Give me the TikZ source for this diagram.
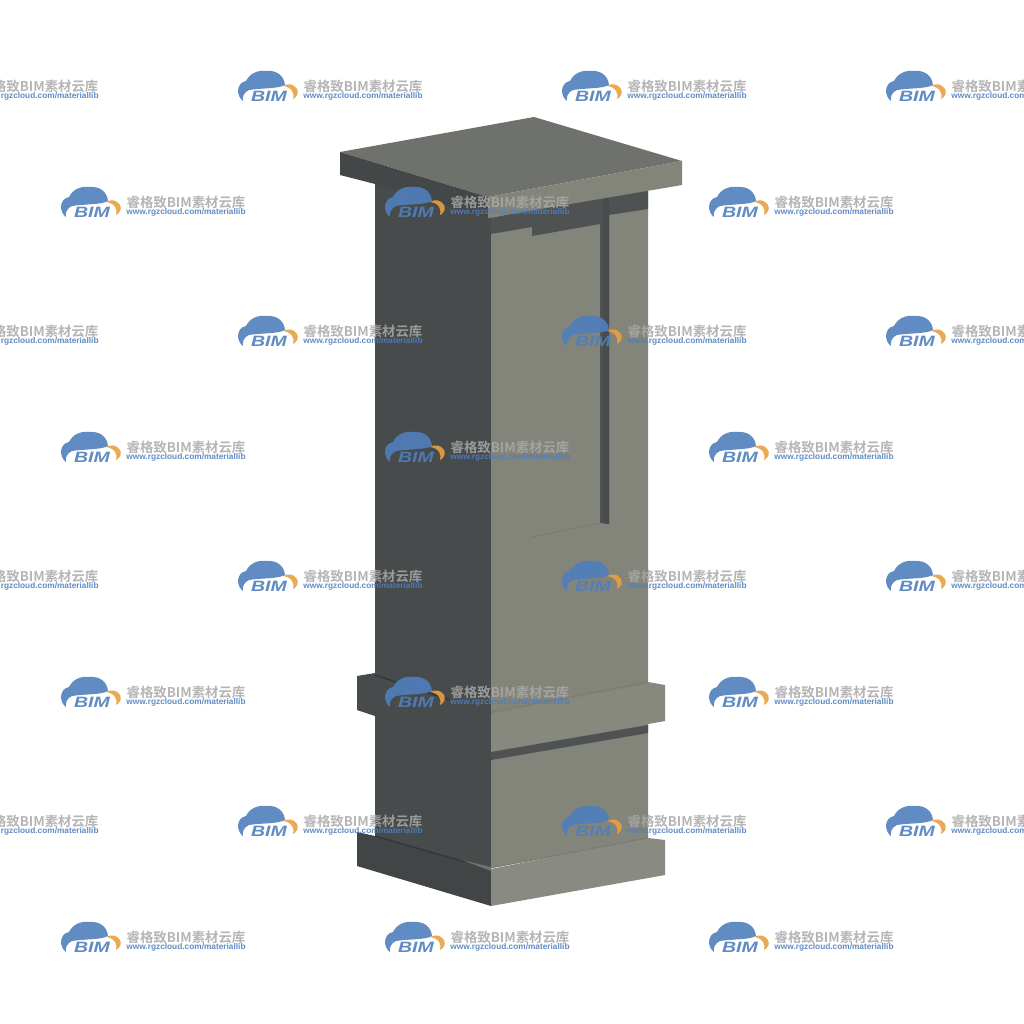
\documentclass[tikz,border=0pt]{standalone}
\usepackage{fontspec}
\setsansfont{Liberation Sans}
\newfontfamily\cjkfont{Noto Sans CJK SC}[BoldFont={* Bold}]
\definecolor{topface}{HTML}{6F716C}
\definecolor{lightface}{HTML}{83847A}
\definecolor{darkface}{HTML}{474B4C}
\definecolor{slotface}{HTML}{4F5253}
\definecolor{grooveface}{HTML}{33383A}
\definecolor{logoblue}{HTML}{4F7FBD}
\definecolor{logoorange}{HTML}{E8A040}
\definecolor{logogray}{HTML}{A9A9A9}
\tikzset{
  bimlogo/.pic={
    \fill [logoblue,opacity=0.9] (5,31) .. controls (-2,26) and (-2,13) .. (8,11) .. controls (12,3) and (20,0) .. (28,1) .. controls (38,0) and (46,5) .. (47,15) .. controls (40,19) and (22,18) .. (11,20) .. controls (6,22) and (4,27) .. (5,31) -- cycle;
    \fill [logoorange,opacity=0.9] (45,16) .. controls (50,13) and (56,14) .. (59,19) .. controls (61,23) and (59,27) .. (55,29) .. controls (57,24) and (54,17) .. (45,16) -- cycle;
    \node (-bim) at (31,26) [bimtext] {\scalebox{1.3}[1]{BIM}};
    \node (-brand) at (125,16.5) [brandtext] {睿格致BIM素材云库};
    \node (-url) at (125,26) [urltext] {www.rgzcloud.com/materiallib};
  },
  bimtext/.style={inner sep=0pt,text=logoblue,text opacity=0.9,font=\sffamily\bfseries\itshape\fontsize{15}{15}\selectfont},
  brandtext/.style={inner sep=0pt,text=logogray,text opacity=0.85,font=\cjkfont\bfseries\fontsize{13.4}{14}\selectfont},
  urltext/.style={inner sep=0pt,text=logoblue,text opacity=0.9,font=\sffamily\bfseries\fontsize{8.3}{9}\selectfont},
  solid face/.style={line width=0.3pt,line join=round},
}
\begin{document}
\begin{tikzpicture}[x=1pt,y=-1pt]
\clip (0,0) rectangle (1024,1024);
\fill [white] (0,0) rectangle (1024,1024);
% column
\fill [darkface,solid face] (375,180) -- (491,215) -- (491,870) -- (375,838) -- cycle;
\fill [lightface,solid face] (491,205) -- (648,180) -- (648,840) -- (491,868) -- cycle;
% recess under the cap
\fill [slotface] (491,218) -- (648,186) -- (648,209) -- (609,215) -- (609,524) -- (600,523) -- (600,224) -- (532,236) -- (532,227) -- (491,234) -- cycle;
\fill [darkface] (603,197) -- (609,196) -- (609,524) -- (603,523) -- cycle;
\draw [lightface!92!black,line width=0.8pt] (532,537) -- (600,523);
% cap
\fill [topface,solid face] (340,152) -- (534,117) -- (682,161) -- (488,197) -- cycle;
\fill [darkface!95!black,solid face] (340,152) -- (488,197) -- (488,218) -- (375,184) -- (340,175) -- cycle;
\fill [lightface,solid face] (488,197) -- (682,161) -- (682,185) -- (488,218) -- cycle;
% middle band
\fill [darkface,solid face] (357,676) -- (375,673) -- (491,712) -- (491,752) -- (375,716) -- (357,710) -- cycle;
\fill [lightface!97!white,solid face] (491,714) -- (648,684) -- (648,682) -- (665,685) -- (665,721) -- (491,752) -- cycle;
\fill [slotface] (491,752) -- (648,725) -- (648,733) -- (491,760) -- cycle;
\draw [grooveface,line width=1.5pt] (375,675) -- (450,700);
\draw [lightface!92!black,line width=0.7pt] (491,712) -- (648,682);
% base
\fill [darkface!92!black,solid face] (357,832) -- (375,836) -- (467,862) -- (491,869) -- (491,906) -- (357,866) -- cycle;
\fill [lightface!95!white,solid face] (491,869) -- (648,838) -- (665,840) -- (665,875) -- (491,906) -- cycle;
\fill [topface,solid face] (462,860) -- (491,867) -- (491,871) -- cycle;
\draw [grooveface,line width=1.5pt] (375,836) -- (465,862);
\draw [lightface!92!black,line width=0.7pt] (491,868) -- (648,838);
% watermarks
\foreach \rowy in {70,315,560,805}
  \foreach \colx in {-86,238,562,886}
    \pic (mark\colx-\rowy) at (\colx,\rowy) {bimlogo};
\foreach \rowy in {186,431,676,921}
  \foreach \colx in {61,385,709}
    \pic (mark\colx-\rowy) at (\colx,\rowy) {bimlogo};
\end{tikzpicture}
\end{document}
